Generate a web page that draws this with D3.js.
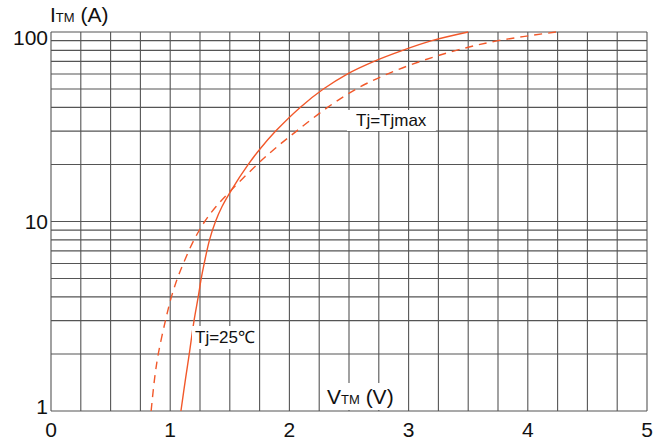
<!DOCTYPE html>
<html>
<head>
<meta charset="utf-8">
<script src="https://cdn.jsdelivr.net/npm/d3@7"></script>
<style>
  body { margin: 0; background: #fff; }
  text { font-family: "Liberation Sans", Arial, sans-serif; fill: #111; }
</style>
</head>
<body>
<svg id="chart"></svg>
<script>
// on-state current (A) and forward voltage (V)
const currents = [1, 1.5, 2, 3, 4, 5, 6, 8, 10, 12, 14.7, 20, 24, 30, 40, 50, 60, 70, 80, 90, 100];
const vt25 =  [1.09, 1.13, 1.16, 1.20, 1.235, 1.26, 1.285, 1.33, 1.38, 1.435, 1.515, 1.655, 1.75, 1.885, 2.09, 2.285, 2.485, 2.71, 2.95, 3.195, 3.50];
const vtMax = [0.84, 0.87, 0.90, 0.96, 1.01, 1.06, 1.11, 1.20, 1.29, 1.385, 1.515, 1.73, 1.87, 2.06, 2.32, 2.56, 2.82, 3.10, 3.40, 3.75, 4.24];
const xTicks = [0, 1, 2, 3, 4, 5];
const yTicks = [1, 10, 100];
const xGrid = d3.range(0, 5.001, 0.25);
const yGrid = [1,2,3,4,5,6,7,8,9,10,20,30,40,50,60,70,80,90,100];

const width = 669, height = 443;
const m = {left: 51, right: 22, top: 32, bottom: 32};
const red = "#f2582a";

const svg = d3.select("#chart").attr("width", width).attr("height", height);

const x = d3.scaleLinear().domain([0, 5]).range([m.left, width - m.right]);
const y = d3.scaleLog().domain([1, 100]).range([height - m.bottom, m.top]);

// grid
svg.append("g").selectAll("line")
  .data(xGrid).enter().append("line")
    .attr("x1", d => x(d)).attr("x2", d => x(d))
    .attr("y1", y(1)).attr("y2", y(100))
    .attr("stroke", "#555").attr("stroke-width", 1.1);
svg.append("g").selectAll("line")
  .data(yGrid).enter().append("line")
    .attr("x1", x(0)).attr("x2", x(5))
    .attr("y1", d => y(d)).attr("y2", d => y(d))
    .attr("stroke", "#555").attr("stroke-width", 1.1);

// curves
const line = (vs) => d3.line()
  .x((d, i) => x(vs[i])).y(d => y(d))
  .curve(d3.curveCatmullRom.alpha(0.5))(currents);

svg.append("path").attr("d", line(vt25))
  .attr("fill", "none").attr("stroke", red).attr("stroke-width", 1.4);
svg.append("path").attr("d", line(vtMax))
  .attr("fill", "none").attr("stroke", red).attr("stroke-width", 1.4)
  .attr("stroke-dasharray", "8,6");

// tick labels
svg.append("g").selectAll("text")
  .data(yTicks).enter().append("text")
    .attr("x", x(0) - 3)
    .attr("y", d => Math.min(Math.max(y(d), m.top + 5), height - m.bottom - 5))
    .attr("dy", "0.36em")
    .attr("text-anchor", "end").attr("font-size", 21)
    .text(d => d);
svg.append("g").selectAll("text")
  .data(xTicks).enter().append("text")
    .attr("x", d => x(d)).attr("y", height - 6)
    .attr("text-anchor", "middle").attr("font-size", 21)
    .text(d => d);

// labels with white backing
function label(tx, ty, parts, pad) {
  const g = svg.append("g");
  const rect = g.append("rect").attr("fill", "#fff");
  const t = g.append("text").attr("x", tx).attr("y", ty);
  parts.forEach(p => t.append("tspan").attr("font-size", p[1]).text(p[0]));
  if (pad) {
    const b = t.node().getBBox();
    rect.attr("x", b.x - pad[0]).attr("y", b.y - pad[1])
        .attr("width", b.width + 2 * pad[0]).attr("height", b.height + 2 * pad[1]);
  }
}

label(x(0) - 1, 22, [["I", 21], ["TM", 13], [" (A)", 21]]);
label(327, 404, [["V", 21], ["TM", 13], [" (V)", 21]], [3, 2]);
label(356, 126, [["Tj=Tjmax", 17]], [9, 1]);
label(195, 343, [["Tj=25℃", 17]], [3, 2]);
</script>
</body>
</html>
